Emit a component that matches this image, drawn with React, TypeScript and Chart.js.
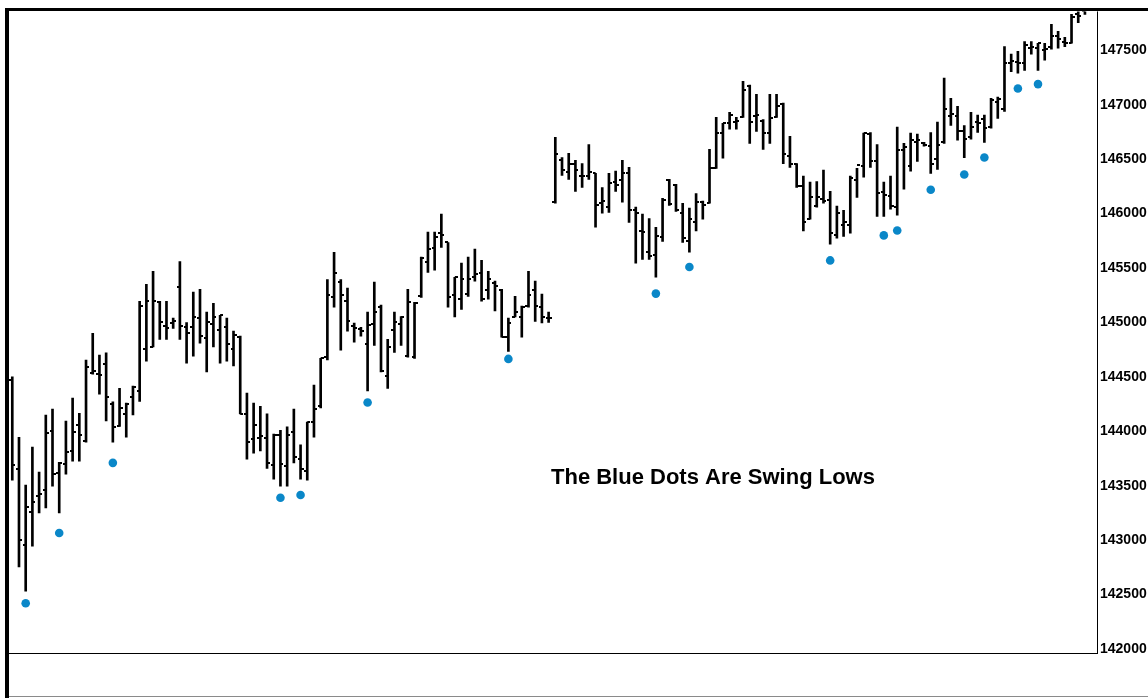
import React, { useEffect, useRef } from 'react';
import { Chart, registerables } from 'chart.js';

Chart.register(...registerables);

const highs = [
  144500, 143945, 143505, 143855, 143625, 144150, 144205, 143715, 144095, 144305,
  144165, 144655, 144900, 144700, 144720, 144270, 144395, 144260, 144415, 145195,
  145350, 145470, 145195, 145195, 145040, 145560, 145000, 145280, 145305, 145095,
  145175, 145065, 145040, 144920, 144875, 144350, 144260, 144230, 144160, 143975,
  144010, 144040, 144205, 143875, 144085, 144425, 144670, 145395, 145645, 145395,
  145315, 144995, 144955, 145095, 145370, 145160, 144845, 145095, 145055, 145305,
  145185, 145600, 145830, 145830, 145995, 145735, 145415, 145545, 145600, 145675,
  145570, 145470, 145380, 145305, 145040, 145240, 145150, 145470, 145380, 145260,
  145095, 146700, 146515, 146555, 146490, 146460, 146635, 146370, 146240, 146370,
  146390, 146490, 146425, 146060, 145995, 145955, 145875, 146140, 146315, 146270,
  146095, 146050, 146185, 146115, 146590, 146885, 146830, 146930, 146885, 147215,
  147180, 147095, 146865, 147095, 147095, 147015, 146710, 146460, 146345, 146290,
  146295, 146400, 146205, 146070, 146030, 146345, 146415, 146740, 146745, 146635,
  146290, 146345, 146795, 146645, 146740, 146730, 146655, 146745, 146840, 147245,
  147060, 146985, 146810, 146930, 146905, 146905, 147060, 147070, 147535, 147465,
  147490, 147580, 147580, 147565, 147565, 147740, 147675, 147620, 147830, 147980,
  148000,
];

const lows = [
  143550, 142755, 142530, 142945, 143250, 143295, 143495, 143250, 143605, 143725,
  143725, 143900, 144525, 144340, 144095, 143900, 144045, 143945, 144150, 144275,
  144645, 144775, 144845, 144845, 144945, 144845, 144625, 144690, 144810, 144545,
  144775, 144625, 144645, 144600, 144160, 143745, 143800, 143820, 143660, 143560,
  143495, 143495, 143710, 143560, 143550, 143945, 144215, 144655, 145140, 144745,
  144920, 144820, 144875, 144370, 144790, 144545, 144395, 144725, 144790, 144680,
  144670, 145230, 145460, 145480, 145690, 145140, 145050, 145120, 145240, 145380,
  145195, 145215, 145105, 144865, 144735, 145050, 144865, 145140, 145010, 144995,
  145000, 146095, 146350, 146315, 146205, 146240, 146315, 145875, 146005, 146010,
  146205, 146105, 145920, 145545, 145580, 145580, 145415, 145745, 146075, 146020,
  145735, 145645, 145840, 145950, 146095, 146415, 146510, 146775, 146775, 146885,
  146645, 146755, 146590, 146645, 146885, 146460, 146425, 146240, 145840, 145950,
  146060, 146095, 145720, 145775, 145790, 145820, 146150, 146335, 146425, 145975,
  145975, 146040, 145985, 146225, 146390, 146480, 146620, 146370, 146405, 146645,
  146810, 146675, 146515, 146685, 146745, 146655, 146785, 146875, 146940, 147305,
  147290, 147315, 147465, 147315, 147410, 147510, 147520, 147535, 147565, 147755,
  147830,
];

const opens = [
  144470, 143655, 142955, 143260, 143405, 143460, 144000, 143615, 143700, 143820,
  144055, 143910, 144535, 144525, 144615, 144250, 144045, 144160, 144315, 144370,
  144755, 144775, 145185, 144965, 144995, 145325, 144955, 144955, 145040, 144855,
  144985, 144930, 144955, 144755, 144865, 144160, 143930, 143935, 143935, 143690,
  143965, 143680, 143990, 143745, 143635, 144085, 144230, 144680, 145230, 145370,
  145195, 144965, 144940, 144800, 144985, 145140, 144505, 144930, 144985, 144690,
  144680, 145240, 145555, 145680, 145820, 145735, 145250, 145215, 145260, 145415,
  145450, 145295, 145360, 145295, 144865, 145050, 145050, 145150, 145295, 145140,
  145040, 146105, 146490, 146380, 146460, 146345, 146350, 146370, 146095, 146060,
  146295, 146305, 146370, 146030, 145840, 145645, 145620, 145785, 146305, 146260,
  146010, 145745, 145920, 146105, 146095, 146415, 146740, 146830, 146840, 146885,
  147170, 146895, 146855, 146740, 146885, 147005, 146525, 146455, 146250, 145955,
  146070, 146130, 146125, 145800, 145900, 145900, 146305, 146435, 146730, 146480,
  146195, 146160, 146060, 146580, 146435, 146655, 146645, 146625, 146500, 146655,
  146895, 146895, 146755, 146700, 146840, 146865, 146800, 147030, 146965, 147380,
  147390, 147380, 147520, 147520, 147500, 147535, 147630, 147575, 147565, 147830,
  147865,
];

const closes = [
  143690, 143000, 143305, 143350, 143425, 143985, 143605, 143710, 143810, 143990,
  143965, 144590, 144550, 144515, 144315, 144040, 144215, 144250, 144405, 145150,
  145195, 145195, 145000, 144945, 145010, 144965, 144900, 145050, 144875, 145000,
  145050, 145065, 144800, 144885, 144160, 143900, 144055, 143955, 143710, 143965,
  143700, 143965, 143765, 143655, 144085, 144205, 144670, 145250, 145450, 145250,
  145010, 144945, 144920, 144975, 145095, 144550, 144775, 145000, 145050, 145185,
  145175, 145590, 145675, 145785, 145800, 145230, 145415, 145395, 145395, 145445,
  145215, 145395, 145335, 144865, 144995, 145095, 145140, 145250, 145150, 145050,
  145040, 146545, 146405, 146460, 146405, 146345, 146380, 146075, 146115, 146280,
  146260, 146370, 146030, 146005, 145830, 145610, 145790, 146125, 146085, 146030,
  145775, 145955, 146105, 146075, 146415, 146745, 146830, 146905, 146850, 147140,
  146840, 146905, 146745, 146875, 146985, 146545, 146460, 146250, 145920, 146150,
  146150, 146115, 145820, 146005, 145920, 146325, 146445, 146740, 146480, 146185,
  146170, 146070, 146580, 146610, 146675, 146675, 146635, 146460, 146635, 146960,
  146915, 146755, 146685, 146795, 146830, 146785, 147040, 147050, 147380, 147400,
  147380, 147545, 147535, 147565, 147510, 147630, 147600, 147565, 147805, 147820,
  147885,
];

const swingLowIndex = [2, 7, 15, 40, 43, 53, 74, 96, 101, 122, 130, 132, 137, 142, 145, 150, 153];
const swingLowValue = [
  142420, 143065, 143710, 143390, 143415, 144265, 144665, 145265, 145510,
  145570, 145800, 145845, 146220, 146360, 146515, 147150, 147190,
];

const yTickValues = [142000, 142500, 143000, 143500, 144000, 144500, 145000, 145500, 146000, 146500, 147000, 147500];

const annotationText = 'The Blue Dots Are Swing Lows';

function makeTick(side: 'left' | 'right'): HTMLCanvasElement {
  const c = document.createElement('canvas');
  c.width = 6;
  c.height = 2;
  const ctx = c.getContext('2d')!;
  ctx.fillStyle = '#000';
  if (side === 'left') ctx.fillRect(0, 0, 3, 2);
  else ctx.fillRect(3, 0, 3, 2);
  return c;
}

export default function App() {
  const ref = useRef<HTMLCanvasElement>(null);

  useEffect(() => {
    if (!ref.current) return;
    const openTick = makeTick('left');
    const closeTick = makeTick('right');
    const idx = opens.map((_, i) => i);

    const framePlugin = {
      id: 'frame',
      afterDraw(chart: any) {
        const { ctx, chartArea: a, width, height } = chart;
        ctx.save();
        ctx.fillStyle = '#000';
        ctx.fillRect(5, 8, 4, height - 8);
        ctx.fillRect(5, 8, width - 5, 3);
        ctx.fillRect(a.left, a.bottom, a.right - a.left + 1, 1);
        ctx.fillRect(a.right, a.top, 1, a.bottom - a.top + 1);
        ctx.fillStyle = '#8a8a8a';
        ctx.fillRect(a.left, height - 2, width - a.left, 1);
        ctx.fillStyle = '#000';
        ctx.font = 'bold 22px "Liberation Sans", Arial, sans-serif';
        ctx.textAlign = 'left';
        ctx.textBaseline = 'alphabetic';
        ctx.fillText(annotationText, 551, 484);
        ctx.restore();
      },
    };

    const chart = new Chart(ref.current, {
      type: 'bar',
      data: {
        datasets: [
          {
            type: 'scatter',
            data: swingLowIndex.map((i, k) => ({ x: i, y: swingLowValue[k] })),
            pointRadius: 4.3,
            pointBackgroundColor: '#0A87C8',
            pointBorderWidth: 0,
            order: 1,
          } as any,
          {
            type: 'scatter',
            data: idx.map((i) => ({ x: i, y: opens[i] })),
            pointStyle: openTick,
            pointRadius: 1,
            order: 2,
          } as any,
          {
            type: 'scatter',
            data: idx.map((i) => ({ x: i, y: closes[i] })),
            pointStyle: closeTick,
            pointRadius: 1,
            order: 2,
          } as any,
          {
            type: 'bar',
            data: idx.map((i) => ({ x: i, y: [lows[i], highs[i]] })),
            backgroundColor: '#000',
            borderWidth: 0,
            barThickness: 2,
            order: 3,
          } as any,
        ],
      },
      options: {
        responsive: false,
        maintainAspectRatio: false,
        animation: false,
        events: [],
        layout: { padding: { left: 9, top: 11, bottom: 45, right: 0 } },
        plugins: {
          legend: { display: false },
          tooltip: { enabled: false },
        },
        scales: {
          x: {
            type: 'linear',
            min: -0.49,
            max: 161.8,
            offset: false,
            display: false,
          },
          y: {
            type: 'linear',
            position: 'right',
            min: 141963,
            max: 147858,
            grid: { display: false, drawTicks: false },
            border: { display: false },
            afterBuildTicks: (s: any) => {
              s.ticks = yTickValues.map((v) => ({ value: v }));
            },
            afterFit: (s: any) => {
              s.width = 51;
            },
            ticks: {
              padding: 3,
              color: '#000',
              font: { family: '"Liberation Sans", Arial, sans-serif', size: 14, weight: 'bold' },
              callback: (v: any) => String(v),
            },
          },
        },
      } as any,
      plugins: [framePlugin],
    });

    return () => chart.destroy();
  }, []);

  return (
    <div style={{ position: 'fixed', left: 0, top: 0, width: 1148, height: 698, background: '#fff' }}>
      <canvas ref={ref} width={1148} height={698} style={{ display: 'block' }} />
    </div>
  );
}
